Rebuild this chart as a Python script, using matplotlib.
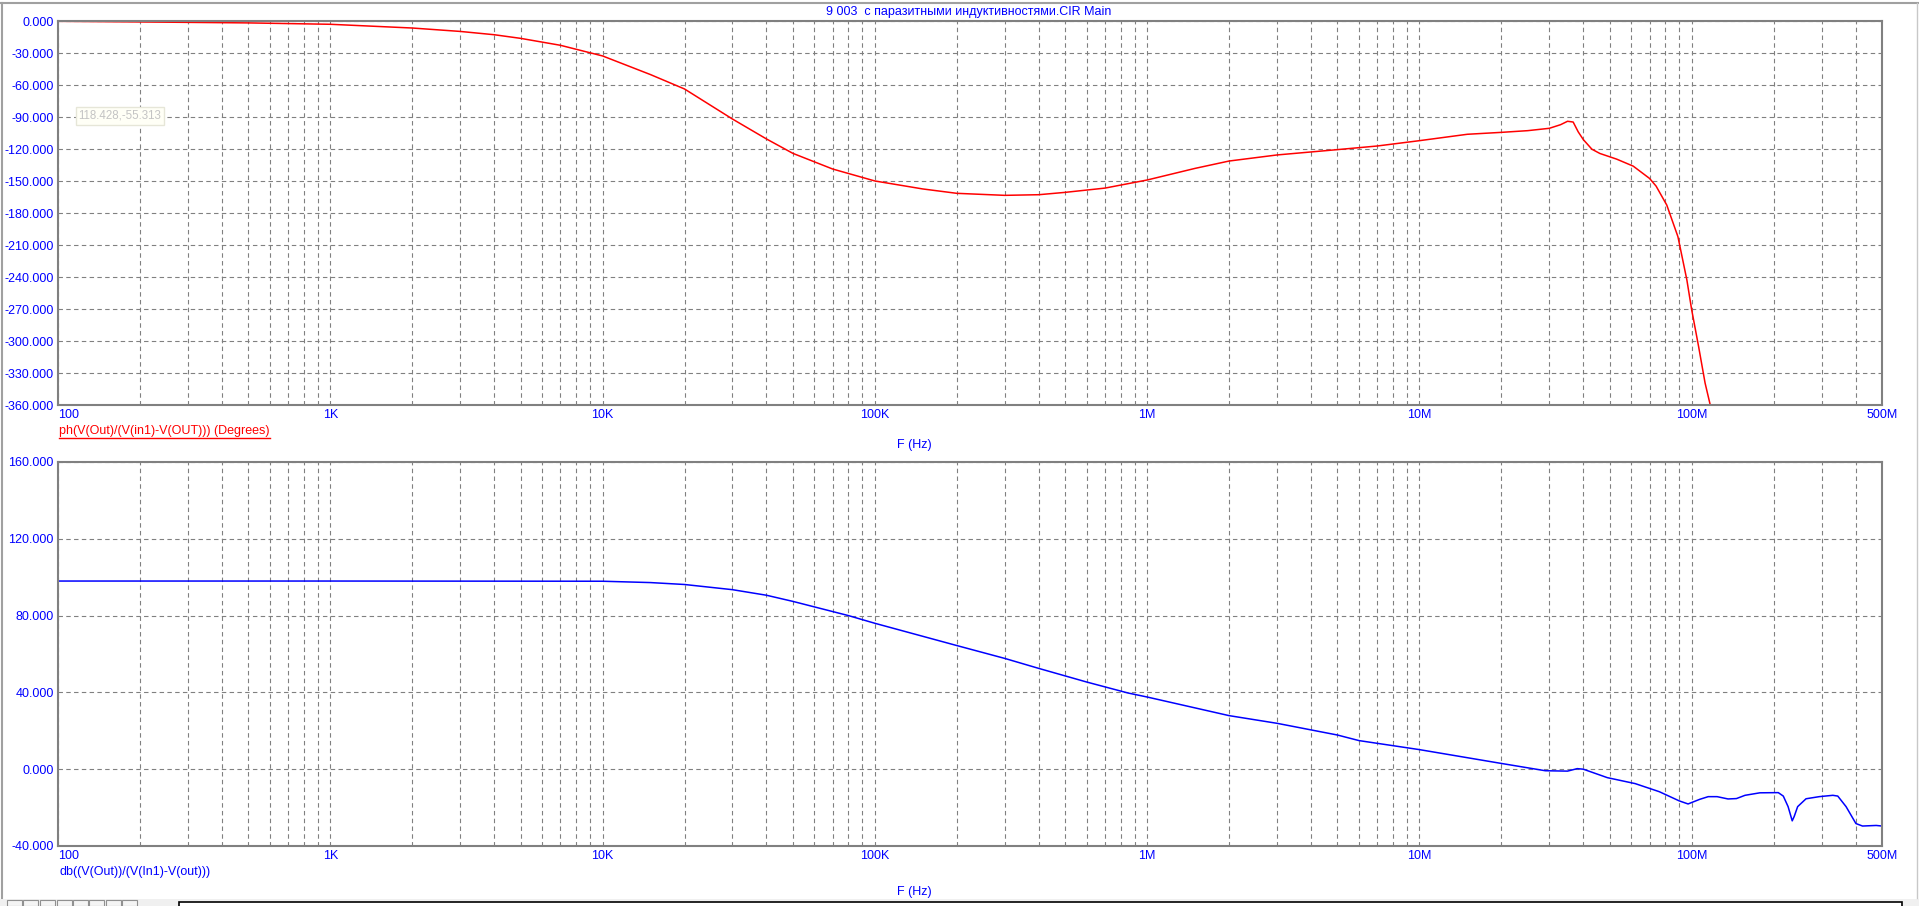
import numpy as np
import matplotlib
matplotlib.use("Agg")
import matplotlib.pyplot as plt
from matplotlib.ticker import LogLocator, NullFormatter
from matplotlib.lines import Line2D
from matplotlib.patches import Rectangle

# phase curve, ph(V(Out)/(V(in1)-V(OUT))) in degrees
ph_freq = [100, 200, 500, 1e3, 2e3, 3e3, 4e3, 5e3, 7e3, 10e3, 15e3, 20e3, 30e3,
           40e3, 50e3, 70e3, 100e3, 150e3, 200e3, 300e3, 400e3, 500e3, 700e3,
           1e6, 1.5e6, 2e6, 3e6, 5e6, 7e6, 10e6, 15e6, 20e6, 25e6, 30e6, 33e6,
           35e6, 36.7e6, 38.3e6, 40e6, 43e6, 46e6, 53e6, 61e6, 70e6, 74e6,
           81e6, 89e6, 96e6, 100e6, 106e6, 112e6, 117e6]
ph_deg = [0, -0.6, -1.5, -2.8, -6.3, -9.5, -12.6, -16.0, -22.5, -32.5, -50.0,
          -63.5, -91.7, -110.4, -123.9, -138.6, -149.8, -157.3, -161.4, -163.3,
          -162.7, -160.5, -156.5, -148.9, -138.0, -131.1, -125.4, -120.4,
          -117.0, -112.0, -106.0, -104.2, -102.6, -100.4, -97.0, -93.8, -94.5,
          -103.7, -111.0, -120.0, -124.0, -129.3, -135.9, -147.4, -154.6,
          -172.4, -202.0, -242.6, -270.7, -305.0, -339.4, -360.0]

# gain curve, db((V(Out))/(V(In1)-V(out)))
db_freq = [100, 1e3, 10e3, 15e3, 20e3, 30e3, 40e3, 50e3, 80e3, 100e3, 200e3,
           300e3, 400e3, 600e3, 850e3, 1e6, 2e6, 3e6, 5e6, 6e6, 10e6, 20e6,
           29e6, 35e6, 38e6, 40e6, 49e6, 62e6, 76e6, 90e6, 97e6, 107e6, 115e6,
           124e6, 136e6, 146e6, 157e6, 178e6, 208e6, 217e6, 226e6, 234e6,
           238e6, 245e6, 263e6, 294e6, 330e6, 344e6, 369e6, 401e6, 424e6,
           476e6, 500e6]
db_val = [98.0, 98.0, 97.9, 97.2, 96.2, 93.5, 90.6, 87.4, 80.0, 76.0, 64.4,
          57.7, 52.5, 45.4, 39.7, 37.6, 27.9, 23.9, 17.8, 14.9, 10.2, 3.0,
          -0.8, -1.0, 0.3, 0.0, -4.4, -7.5, -11.7, -16.5, -18.1, -15.7, -14.3,
          -14.3, -15.5, -15.3, -13.6, -12.3, -12.2, -14.0, -19.5, -26.9, -24.6,
          -19.5, -15.4, -14.3, -13.6, -14.0, -19.5, -28.3, -29.6, -29.3, -29.6]

x_ticks = [100, 1e3, 1e4, 1e5, 1e6, 1e7, 1e8, 5e8]
x_labels = ["100", "1K", "10K", "100K", "1M", "10M", "100M", "500M"]
ph_ticks = list(range(0, -361, -30))
db_ticks = list(range(-40, 161, 40))

W, H = 1919, 906
BLUE = "#0000ff"
GRID = "#808080"

plt.rcParams["font.family"] = ["Liberation Sans", "DejaVu Sans"]
plt.rcParams["font.size"] = 9

fig = plt.figure(figsize=(W / 100, H / 100), dpi=100)

def px_axes(left, top, right, bottom):
    return fig.add_axes([left / W, 1 - bottom / H, (right - left) / W, (bottom - top) / H])

def style_axes(ax, yticks):
    ax.set_xscale("log")
    ax.set_xlim(100, 5e8)
    ax.set_ylim(min(yticks), max(yticks))
    ax.set_yticks(yticks)
    ax.set_yticklabels([f"{v:.3f}" for v in yticks], color=BLUE)
    ax.set_xticks(x_ticks)
    ax.set_xticklabels(x_labels, color=BLUE)
    ax.xaxis.set_minor_locator(LogLocator(base=10, subs=np.arange(2, 10), numticks=20))
    ax.xaxis.set_minor_formatter(NullFormatter())
    ax.tick_params(which="both", length=0)
    ax.tick_params(axis="y", pad=3)
    ax.tick_params(axis="x", pad=3)
    ax.xaxis.get_ticklabels()[0].set_horizontalalignment("left")
    ax.grid(True, which="both", color=GRID, linestyle=(0, (4, 3)), linewidth=0.8)
    for sp in ax.spines.values():
        sp.set_color(GRID)
        sp.set_linewidth(1.5)

ax1 = px_axes(58, 21.3, 1882, 405)
ax2 = px_axes(58, 462, 1882, 846)
style_axes(ax1, ph_ticks)
style_axes(ax2, db_ticks)

ax1.plot(ph_freq, ph_deg, color="red", linewidth=1.1)
ax2.plot(db_freq, db_val, color=BLUE, linewidth=1.1)

# texts
fig.text(969 / W, 1 - 12.5 / H, "9 003  с паразитными индуктивностями.CIR Main",
         color=BLUE, ha="center", va="center", fontsize=9)
fig.text(914 / W, 1 - 445 / H, "F (Hz)", color=BLUE, ha="center", va="center")
fig.text(914 / W, 1 - 892 / H, "F (Hz)", color=BLUE, ha="center", va="center")
ph_lbl = fig.text(59 / W, 1 - 430.5 / H, "ph(V(Out)/(V(in1)-V(OUT))) (Degrees)",
                  color="red", ha="left", va="center")
fig.text(59 / W, 1 - 871.5 / H, "db((V(Out))/(V(In1)-V(out)))",
         color=BLUE, ha="left", va="center")

# cursor readout box
ax1.text(0.0112, 0.754, "118.428,-55.313", transform=ax1.transAxes, fontsize=8.3,
         color="#c4c4c4", ha="left", va="center",
         bbox=dict(boxstyle="square,pad=0.25", facecolor="#fffff6", edgecolor="#e6e6d8", linewidth=1))

# underline the phase label
fig.canvas.draw()
bb = ph_lbl.get_window_extent(renderer=fig.canvas.get_renderer())
fig.add_artist(Line2D([bb.x0 / W, bb.x1 / W], [(bb.y0 - 1) / H, (bb.y0 - 1) / H],
                      color="red", linewidth=1.0, transform=fig.transFigure))

# window frame bits
fig.add_artist(Line2D([0, 1], [1 - 3 / H, 1 - 3 / H], color="#a0a0a0", linewidth=1.5,
                      transform=fig.transFigure))
fig.add_artist(Line2D([1.5 / W, 1.5 / W], [1 - 3 / H, 1 - 898 / H], color="#a0a0a0",
                      linewidth=1.5, transform=fig.transFigure))
fig.add_artist(Line2D([1916.5 / W, 1916.5 / W], [1 - 3 / H, 1 - 898 / H], color="#c8c8c8",
                      linewidth=1.0, transform=fig.transFigure))
fig.add_artist(Rectangle((0, 0), 1, 7 / H, facecolor="#f0f0f0", edgecolor="none",
                         transform=fig.transFigure))
for bx in [7, 23, 40, 57, 73, 89, 106, 122]:
    fig.add_artist(Rectangle((bx / W, 0), 15 / W, 6 / H, facecolor="#f4f4f4",
                             edgecolor="#909090", linewidth=0.8, transform=fig.transFigure))
fig.add_artist(Rectangle((179 / W, -2 / H), 1723 / W, 6.5 / H, facecolor="white",
                         edgecolor="black", linewidth=1.2, transform=fig.transFigure))

fig.savefig("out.png", dpi=100)
